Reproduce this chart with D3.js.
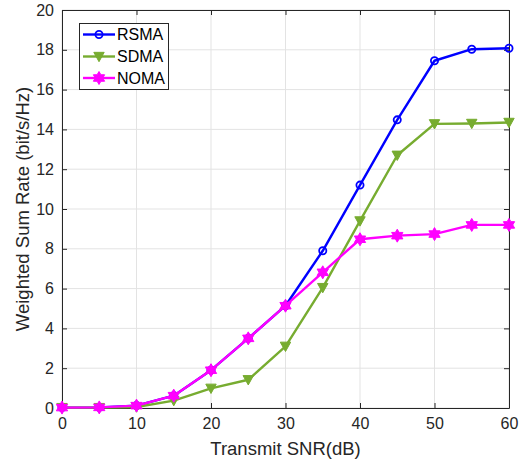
<!DOCTYPE html>
<html>
<head>
<meta charset="utf-8">
<script src="https://cdn.jsdelivr.net/npm/d3@7"></script>
<style>
  html, body { margin: 0; padding: 0; background: #fff; }
  svg { display: block; font-family: "Liberation Sans", Arial, Helvetica, sans-serif; }
</style>
</head>
<body>
<svg id="chart" width="524" height="464"></svg>
<script>
// Transmit SNR (dB) sample points
const snr = [0, 5, 10, 15, 20, 25, 30, 35, 40, 45, 50, 55, 60];

// Weighted sum rate (bit/s/Hz) per scheme
const rsma = [0.02, 0.03, 0.12, 0.62, 1.90, 3.50, 5.14, 7.90, 11.20, 14.48, 17.45, 18.03, 18.08];
const sdma = [0.02, 0.02, 0.05, 0.37, 0.99, 1.42, 3.10, 6.05, 9.40, 12.70, 14.28, 14.30, 14.35];
const noma = [0.02, 0.03, 0.12, 0.62, 1.90, 3.50, 5.14, 6.82, 8.48, 8.66, 8.74, 9.20, 9.20];

const seriesNames = ["RSMA", "SDMA", "NOMA"];
const xTicks = [0, 10, 20, 30, 40, 50, 60];
const yTicks = [0, 2, 4, 6, 8, 10, 12, 14, 16, 18, 20];

const xLabel = "Transmit SNR(dB)";
const yLabel = "Weighted Sum Rate (bit/s/Hz)";

const seriesStyle = [
  { color: "#0000ff", marker: "circle" },
  { color: "#77ac30", marker: "triangleDown" },
  { color: "#ff00ff", marker: "hexagram" }
];

const svg = d3.select("#chart");
const margin = { left: 62, top: 10, right: 15, bottom: 56 };
const W = 524, H = 464;
const x0 = margin.left, x1 = W - margin.right;
const y0 = H - margin.bottom, y1 = margin.top;

const x = d3.scaleLinear().domain([0, 60]).range([x0, x1]);
const y = d3.scaleLinear().domain([0, 20]).range([y0, y1]);

const axisColor = "#262626";
const gridColor = "#e3e3e3";

// Grid lines
const grid = svg.append("g");
grid.selectAll("line.gx").data(xTicks).join("line")
  .attr("x1", d => x(d)).attr("x2", d => x(d))
  .attr("y1", y0).attr("y2", y1)
  .attr("stroke", gridColor).attr("stroke-width", 1);
grid.selectAll("line.gy").data(yTicks).join("line")
  .attr("x1", x0).attr("x2", x1)
  .attr("y1", d => y(d)).attr("y2", d => y(d))
  .attr("stroke", gridColor).attr("stroke-width", 1);

// Axes with inward ticks
const tickLen = 5;
const bottomAxis = svg.append("g").attr("transform", `translate(0,${y0})`)
  .call(d3.axisBottom(x).tickValues(xTicks).tickSizeInner(-tickLen).tickSizeOuter(0).tickPadding(10));
const leftAxis = svg.append("g").attr("transform", `translate(${x0},0)`)
  .call(d3.axisLeft(y).tickValues(yTicks).tickSizeInner(-tickLen).tickSizeOuter(0).tickPadding(8));
const topAxis = svg.append("g").attr("transform", `translate(0,${y1})`)
  .call(d3.axisTop(x).tickValues(xTicks).tickSizeInner(-tickLen).tickSizeOuter(0).tickFormat(""));
const rightAxis = svg.append("g").attr("transform", `translate(${x1},0)`)
  .call(d3.axisRight(y).tickValues(yTicks).tickSizeInner(-tickLen).tickSizeOuter(0).tickFormat(""));

[bottomAxis, leftAxis, topAxis, rightAxis].forEach(g => {
  g.select(".domain").attr("stroke", axisColor).attr("stroke-width", 1);
  g.selectAll(".tick line").attr("stroke", axisColor);
  g.selectAll(".tick text").attr("fill", axisColor).style("font-size", "16px")
    .style("font-family", "Liberation Sans, Arial, sans-serif");
});

// Axis titles
svg.append("text")
  .attr("x", (x0 + x1) / 2).attr("y", 455)
  .attr("text-anchor", "middle")
  .attr("fill", axisColor).style("font-size", "18.5px")
  .text(xLabel);
svg.append("text")
  .attr("transform", `translate(29,${(y0 + y1) / 2}) rotate(-90)`)
  .attr("text-anchor", "middle")
  .attr("fill", axisColor).style("font-size", "18.5px")
  .text(yLabel);

// Marker shapes
function hexagramPath(r) {
  const pts = [];
  for (let i = 0; i < 12; i++) {
    const a = -Math.PI / 2 + i * Math.PI / 6;
    const rr = i % 2 === 0 ? r : r / Math.sqrt(3);
    pts.push([rr * Math.cos(a), rr * Math.sin(a)]);
  }
  return "M" + pts.map(p => p.join(",")).join("L") + "Z";
}
function drawMarker(g, type, color, cx, cy) {
  if (type === "circle") {
    g.append("circle").attr("cx", cx).attr("cy", cy).attr("r", 3.6)
      .attr("fill", "none").attr("stroke", color).attr("stroke-width", 1.8);
  } else if (type === "triangleDown") {
    const s = 5.2;
    g.append("path")
      .attr("d", `M${cx - s},${cy - s * 0.8}L${cx + s},${cy - s * 0.8}L${cx},${cy + s}Z`)
      .attr("fill", color).attr("stroke", color).attr("stroke-width", 1);
  } else {
    g.append("path").attr("transform", `translate(${cx},${cy})`)
      .attr("d", hexagramPath(6.5))
      .attr("fill", color).attr("stroke", color).attr("stroke-width", 1);
  }
}

// Series lines and markers
const allSeries = [rsma, sdma, noma];
const line = d3.line().x(d => x(d[0])).y(d => y(d[1]));
allSeries.forEach((vals, i) => {
  const st = seriesStyle[i];
  const pts = snr.map((s, j) => [s, vals[j]]);
  const g = svg.append("g");
  g.append("path").datum(pts).attr("d", line)
    .attr("fill", "none").attr("stroke", st.color).attr("stroke-width", 2.4)
    .attr("stroke-linejoin", "round");
  pts.forEach(p => drawMarker(g, st.marker, st.color, x(p[0]), y(p[1])));
});

// Legend
const legend = svg.append("g");
legend.append("rect").attr("x", 79.5).attr("y", 23.5).attr("width", 89).attr("height", 66)
  .attr("fill", "#fff").attr("stroke", axisColor).attr("stroke-width", 1);
const legendY = [34.5, 56.5, 78];
seriesNames.forEach((name, i) => {
  const st = seriesStyle[i];
  legend.append("line").attr("x1", 83).attr("x2", 115)
    .attr("y1", legendY[i]).attr("y2", legendY[i])
    .attr("stroke", st.color).attr("stroke-width", 2.4);
  drawMarker(legend, st.marker, st.color, 99, legendY[i]);
  legend.append("text").attr("x", 117).attr("y", legendY[i] + 5.8)
    .attr("fill", "#000").style("font-size", "16px").text(name);
});
</script>
</body>
</html>
